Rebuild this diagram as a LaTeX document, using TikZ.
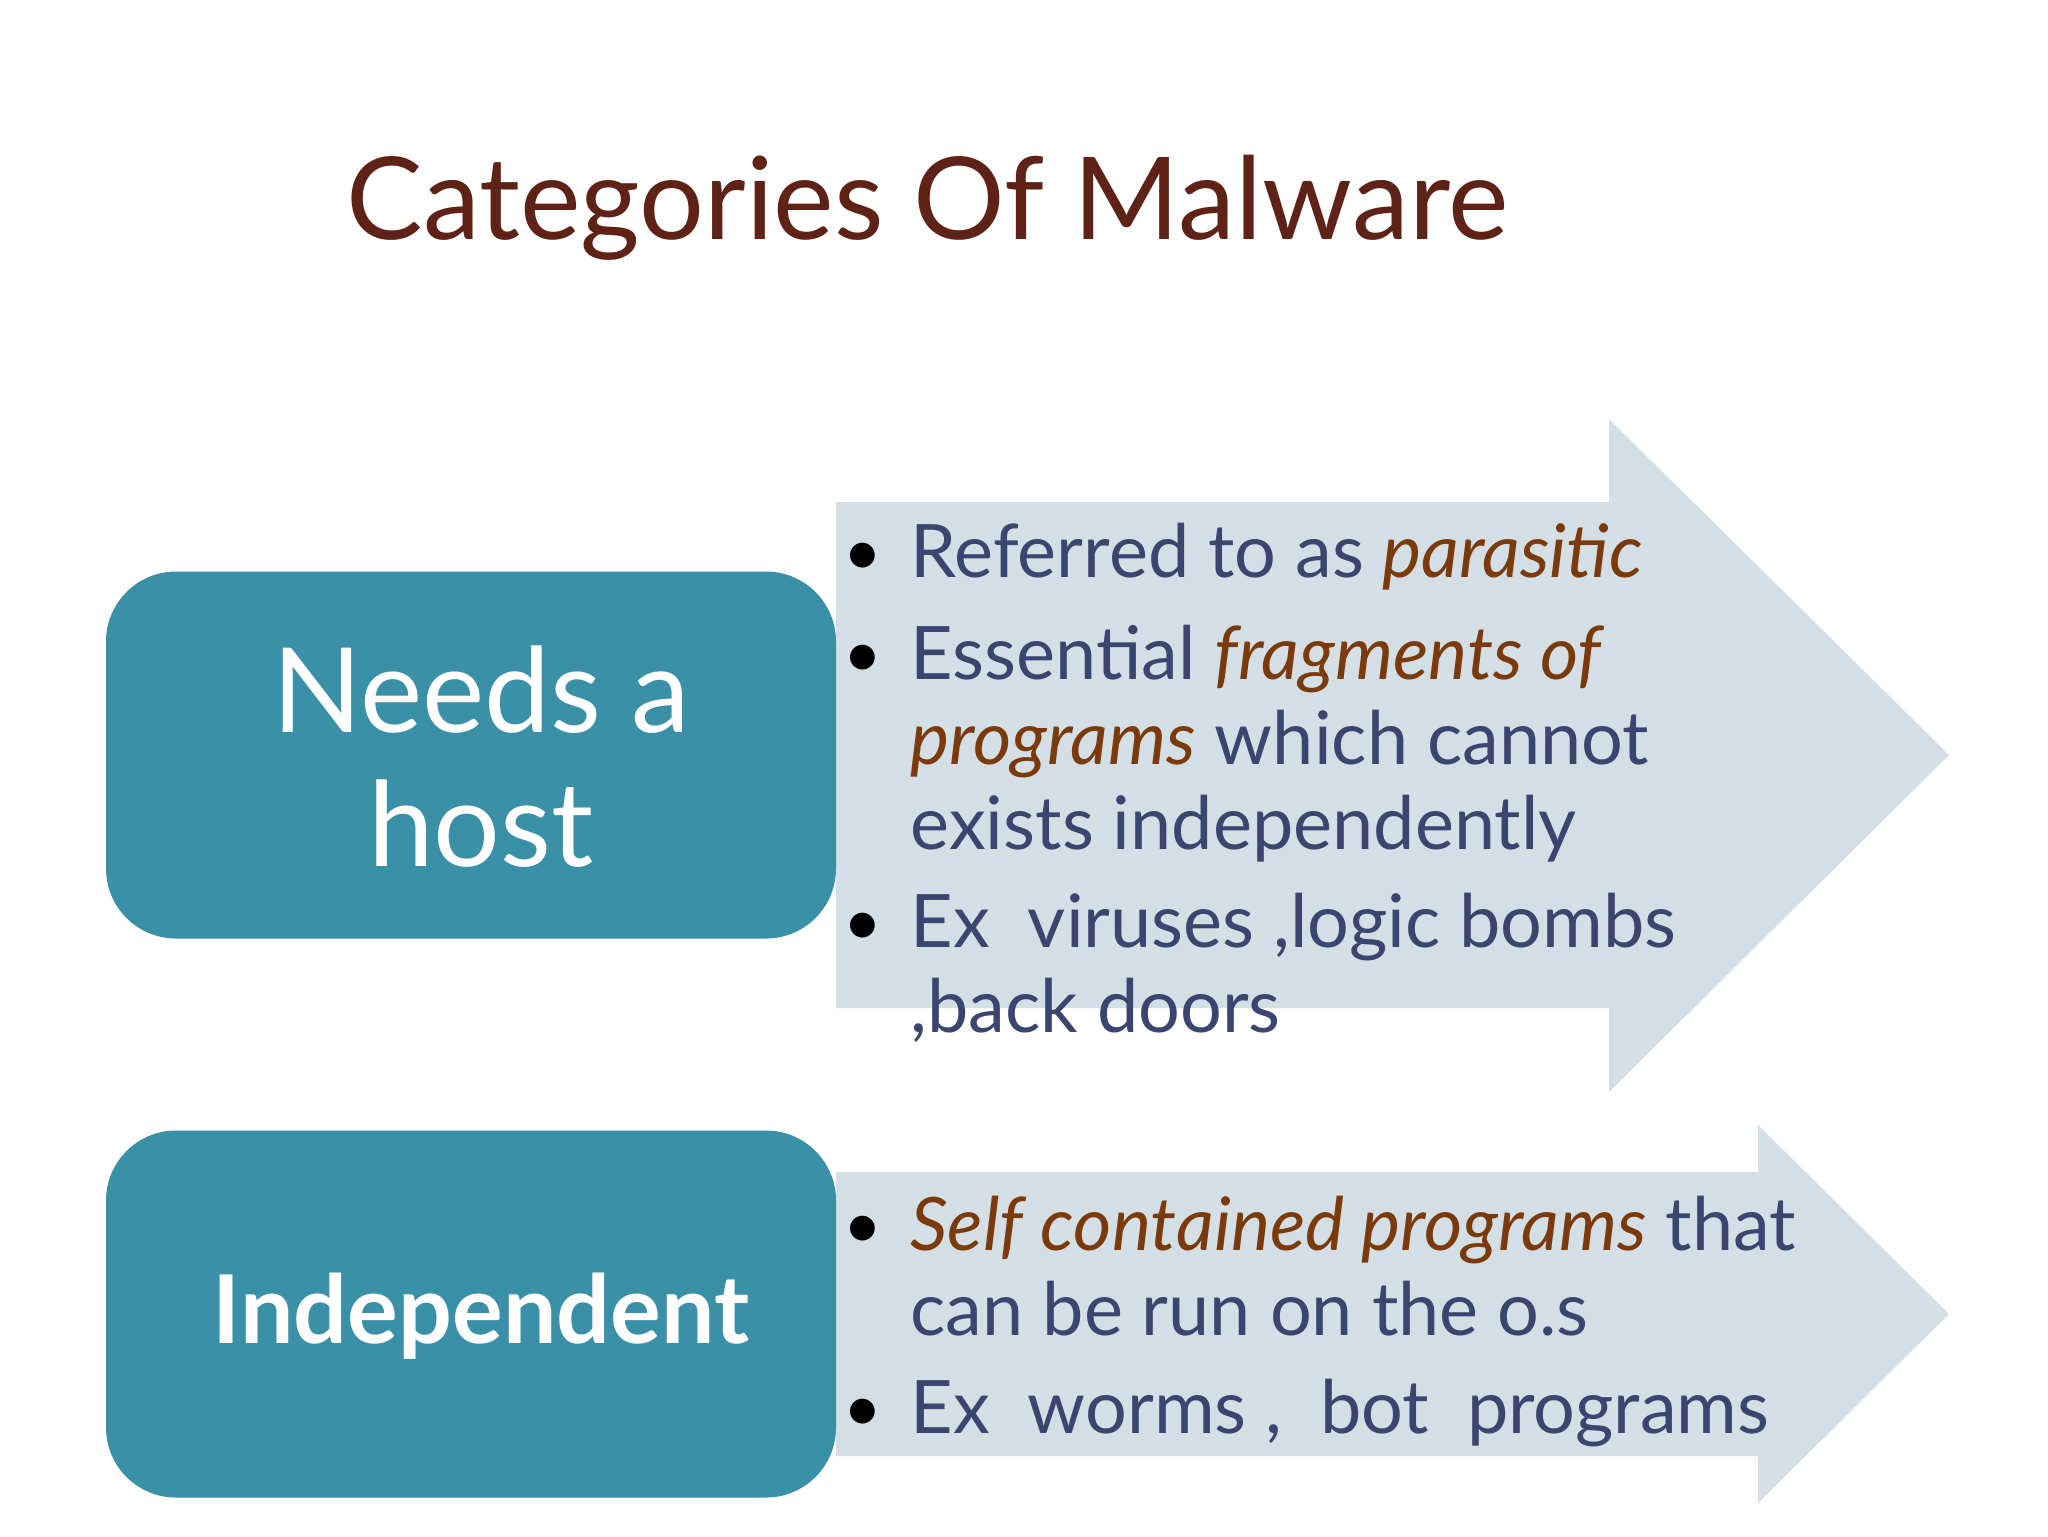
\documentclass[tikz,border=0pt]{standalone}
\usepackage{fontspec}
\setmainfont{Lato}
\usetikzlibrary{positioning}
\definecolor{titlebrown}{HTML}{5E2216}
\definecolor{hostteal}{HTML}{3A90A6}
\definecolor{arrowgray}{HTML}{D3DFE4}
\definecolor{itemblue}{HTML}{3B4670}
\definecolor{emphbrown}{HTML}{7A3A0B}
\newcommand{\hl}[1]{\textcolor{emphbrown}{\itshape #1}}
\tikzset{
	catbox/.style={fill=hostteal,rounded corners=7mm,minimum width=73mm,minimum height=36.7mm,inner sep=0pt},
	catlabel/.style={text=white,align=center,inner sep=0pt},
	itemline/.style={anchor=base west,inner sep=0pt,text=itemblue,font=\fontsize{21}{24}\selectfont},
	dot/.style={anchor=base west,inner sep=0pt,font=\fontsize{19}{24}\selectfont}
}
\begin{document}
\begin{tikzpicture}[x=0.1mm,y=-0.1mm]
		\fill[white] (0,0) rectangle (2048,1536);
		\useasboundingbox (0,0) rectangle (2048,1536);
		\node[anchor=base west,inner sep=0pt,text=titlebrown,font=\fontsize{32.6}{40}\selectfont] (title) at (346,239) {Categories Of Malware};
		\fill[arrowgray] (836,502) -- (1609,502) -- (1609,419) -- (1949,755) -- (1609,1092) -- (1609,1008) -- (836,1008) -- cycle;
		\fill[arrowgray] (836,1172) -- (1758,1172) -- (1758,1125) -- (1949,1314) -- (1758,1503) -- (1758,1456) -- (836,1456) -- cycle;
		\node[catbox] (host) at (471,755) {};
		\node[catbox] (indep) at (471,1314) {};
		\node[catlabel,font=\fontsize{33.5}{38.1}\selectfont] (hostlabel) at (481,757) {Needs a\\host};
		\node[catlabel,font=\fontsize{27}{30}\selectfont\bfseries] (indeplabel) at (481,1316) {Independent};
		\node[dot] (b1) at (843,575) {\textbullet};
		\node[dot] (b2) at (843,677) {\textbullet};
		\node[dot] (b3) at (843,945) {\textbullet};
		\node[dot] (b4) at (843,1248) {\textbullet};
		\node[dot] (b5) at (843,1431) {\textbullet};
		\node[itemline] (refer) at (910,577) {Referred to as \hl{parasitic}};
		\node[itemline] (essen1) at (910,679) {Essential \hl{fragments of}};
		\node[itemline] (essen2) at (910,764) {\hl{programs} which cannot};
		\node[itemline] (essen3) at (910,849) {exists independently};
		\node[itemline] (exv1) at (910,947) {Ex\ \ viruses ,logic bombs};
		\node[itemline] (exv2) at (910,1032) {,back doors};
		\node[itemline] (self1) at (910,1250) {\hl{Self contained programs} that};
		\node[itemline] (self2) at (910,1335) {can be run on the o.s};
		\node[itemline] (exw) at (910,1433) {Ex\ \ worms ,\ \ bot\ \ programs};
\end{tikzpicture}
\end{document}
